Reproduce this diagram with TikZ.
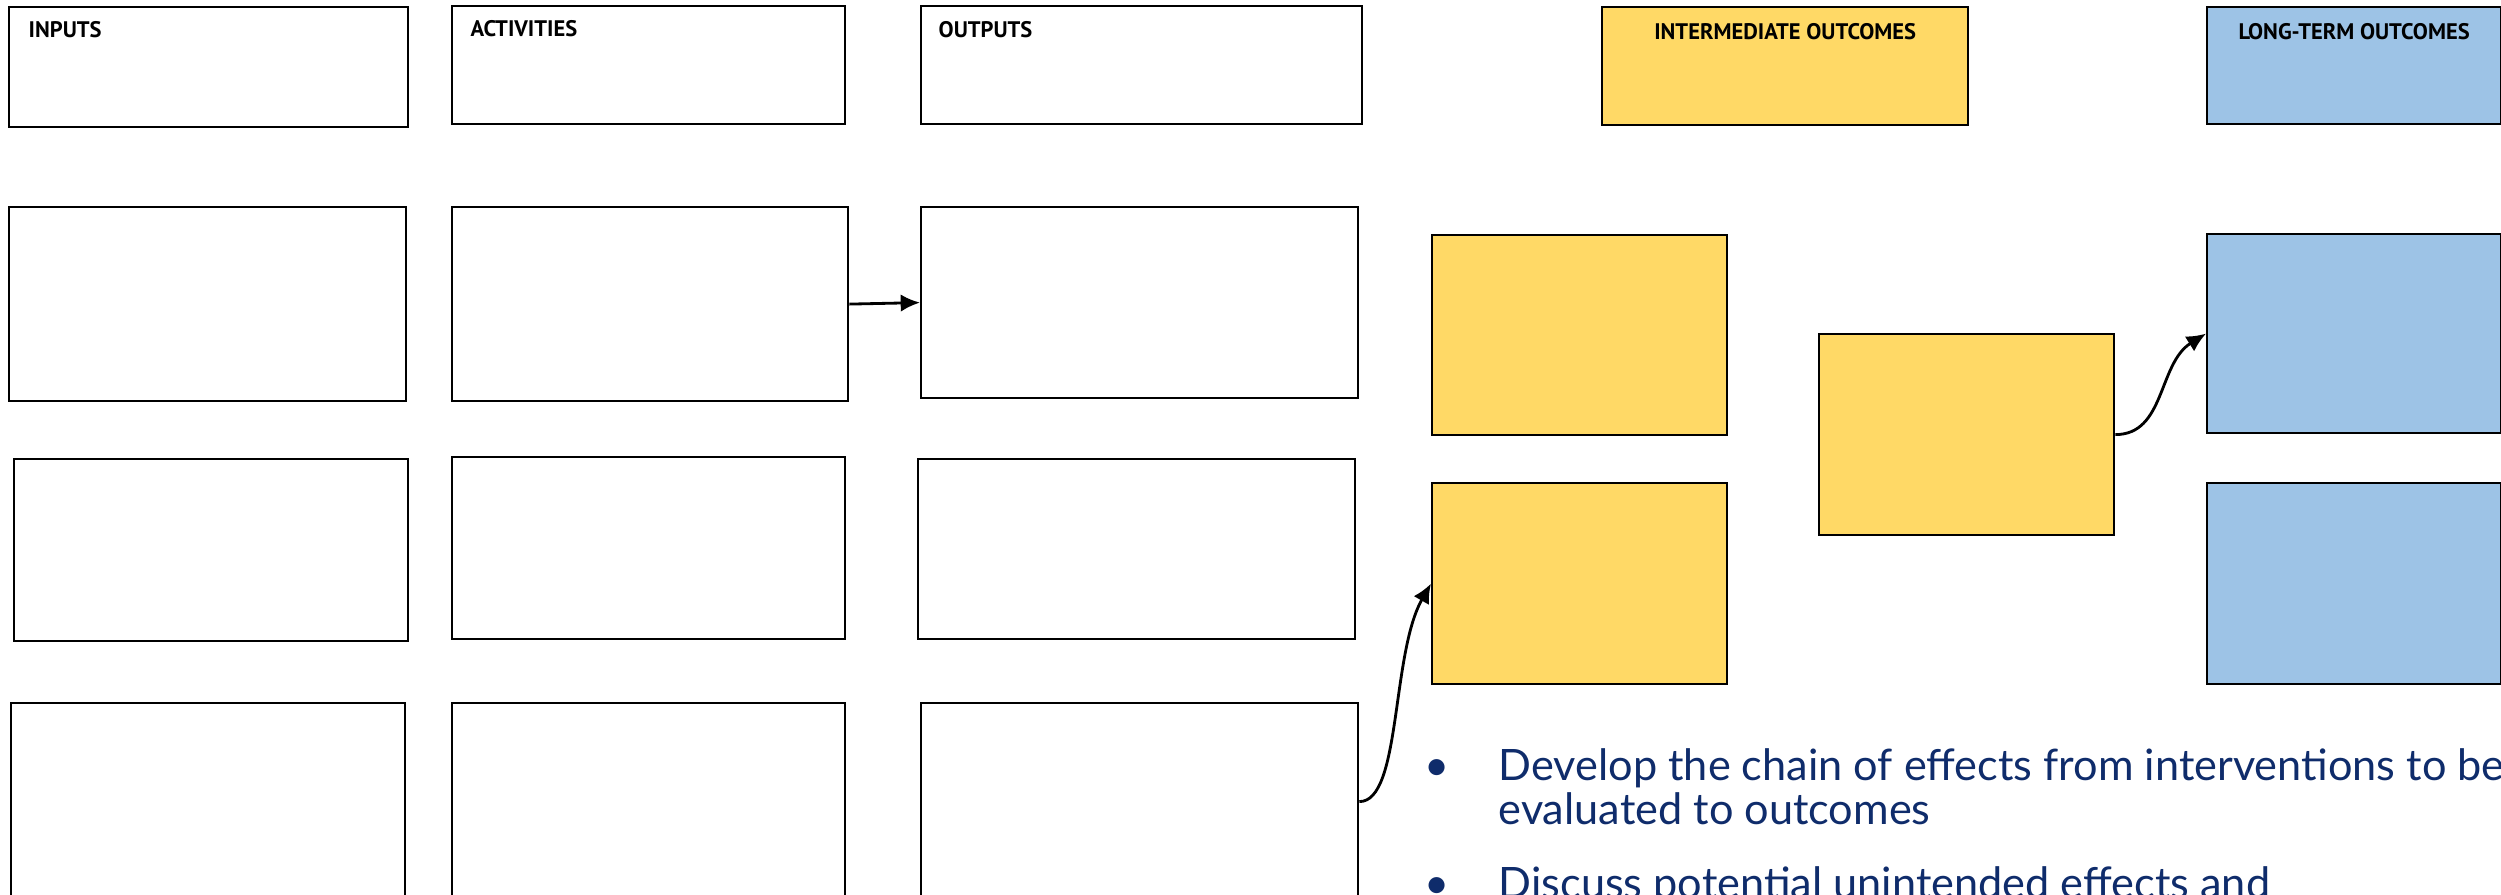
\documentclass[tikz,border=0pt]{standalone}
\usepackage{fontspec}
\setmainfont{Lato}
\newfontfamily\headfont{PT Sans}
\usepackage{tikz}
\usetikzlibrary{arrows.meta}
\definecolor{midyellow}{HTML}{FFD966}
\definecolor{longblue}{HTML}{9DC3E6}
\definecolor{navytext}{HTML}{0F2C6B}
\tikzstyle{cell} = [rectangle, draw=black, line width=0.6pt, anchor=north west, inner sep=0pt]
\tikzstyle{midbox} = [cell, fill=midyellow]
\tikzstyle{longbox} = [cell, fill=longblue]
\tikzstyle{heading} = [font=\headfont\bfseries\fontsize{6.4}{7}\selectfont, inner sep=0pt]
\tikzstyle{arrow} = [line width=0.8pt, -{Latex[length=5.5pt,width=5pt]}]
\tikzstyle{bullet} = [anchor=base west, align=left, inner sep=0pt, text=navytext, font=\fontsize{12.3}{12.5}\selectfont]

\begin{document}
\begin{tikzpicture}[x=0.01cm, y=-0.01cm]
  \useasboundingbox (0,0) rectangle (2501,895);
  % headings
  \node(hin)[cell, minimum width=3.99cm, minimum height=1.2cm,
    label={[heading, anchor=north west, xshift=0.2cm, yshift=-0.15cm]north west:INPUTS}] at (8,6) {};
  \node(hact)[cell, minimum width=3.93cm, minimum height=1.18cm,
    label={[heading, anchor=north west, xshift=0.19cm, yshift=-0.15cm]north west:ACTIVITIES}] at (451,5) {};
  \node(hout)[cell, minimum width=4.41cm, minimum height=1.18cm,
    label={[heading, anchor=north west, xshift=0.18cm, yshift=-0.16cm]north west:OUTPUTS}] at (920,5) {};
  \node(hmid)[midbox, minimum width=3.66cm, minimum height=1.18cm,
    label={[heading, anchor=north, yshift=-0.17cm]north:INTERMEDIATE OUTCOMES}] at (1601,6) {};
  \node(hlong)[longbox, minimum width=2.94cm, minimum height=1.17cm,
    label={[heading, anchor=north, yshift=-0.17cm]north:LONG-TERM OUTCOMES}] at (2206,6) {};

  % first row
  \node(in1)[cell, minimum width=3.97cm, minimum height=1.94cm] at (8,206) {};
  \node(act1)[cell, minimum width=3.96cm, minimum height=1.94cm] at (451,206) {};
  \node(out1)[cell, minimum width=4.37cm, minimum height=1.91cm] at (920,206) {};
  % second row
  \node(in2)[cell, minimum width=3.94cm, minimum height=1.82cm] at (13,458) {};
  \node(act2)[cell, minimum width=3.93cm, minimum height=1.82cm] at (451,456) {};
  \node(out2)[cell, minimum width=4.37cm, minimum height=1.80cm] at (917,458) {};
  % third row
  \node(in3)[cell, minimum width=3.94cm, minimum height=1.97cm] at (10,702) {};
  \node(act3)[cell, minimum width=3.93cm, minimum height=1.97cm] at (451,702) {};
  \node(out3)[cell, minimum width=4.37cm, minimum height=1.97cm] at (920,702) {};

  % outcomes
  \node(mid1)[midbox, minimum width=2.95cm, minimum height=2.0cm] at (1431,234) {};
  \node(mid2)[midbox, minimum width=2.95cm, minimum height=2.01cm] at (1431,482) {};
  \node(mid3)[midbox, minimum width=2.95cm, minimum height=2.01cm] at (1818,333) {};
  \node(long1)[longbox, minimum width=2.94cm, minimum height=1.99cm] at (2206,233) {};
  \node(long2)[longbox, minimum width=2.94cm, minimum height=2.01cm] at (2206,482) {};

  \draw[arrow] (act1.east) -- (out1.west);
  \draw[arrow] (out3.east) .. controls +(42,0) and +(-40,70) .. (mid2.west);
  \draw[arrow] (mid3.east) .. controls +(50,0) and +(-48,30) .. (long1.west);

  % notes
  \node(pt1)[bullet] at (1424,824) {\makebox[0.74cm][l]{•}Develop the chain of effects from interventions to be\\\hspace*{0.74cm}evaluated to outcomes};
  \node(pt2)[bullet] at (1424,898) {\makebox[0.74cm][l]{•}Discuss potential unintended effects and};
\end{tikzpicture}
\end{document}
